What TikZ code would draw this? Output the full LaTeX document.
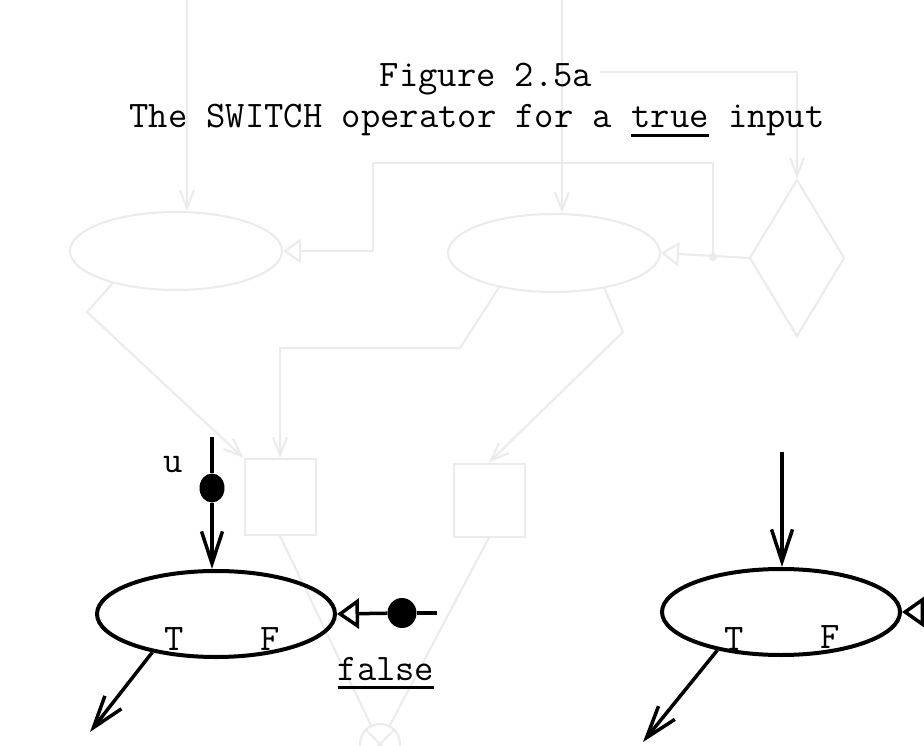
\documentclass[tikz,border=0pt]{standalone}
\usepackage{fontspec}
\usepackage{tikz}
\usetikzlibrary{shapes.geometric, arrows.meta, positioning}

\tikzset{
	txt/.style={font=\ttfamily\fontsize{37.5}{40}\selectfont\addfontfeatures{FakeBold=3}, inner sep=0pt, anchor=base},
	op/.style={draw, shape=ellipse, line width=4pt, minimum width=238pt, minimum height=86pt, inner sep=0pt},
	token/.style={fill, shape=ellipse, minimum width=25pt, minimum height=29pt, inner sep=0pt},
	wire/.style={line width=3.5pt},
	ghost/.style={draw=black!8, line width=2pt},
	vee/.tip={Straight Barb[length=32pt, width=21pt]},
	tri/.tip={Triangle[open, length=22pt, width=30pt]},
	gvee/.tip={Straight Barb[length=18pt, width=14pt]},
	gtri/.tip={Triangle[open, length=18pt, width=24pt]},
}
\newcommand{\lineunder}[1]{\setbox0\hbox{#1}\rlap{\rule[-9pt]{\wd0}{2.6pt}}\box0\relax}

\begin{document}
\begin{tikzpicture}[x=1pt, y=-1pt]
	\useasboundingbox[fill=white] (0,0) rectangle (924,746);
	\clip (0,0) rectangle (924,746);

	\node[ghost, shape=ellipse, minimum width=212pt, minimum height=78pt] (gOpA) at (176,251) {};
	\node[ghost, shape=ellipse, minimum width=212pt, minimum height=78pt] (gOpB) at (554,253) {};
	\node[ghost, shape=diamond, minimum width=95pt, minimum height=157pt, inner sep=0pt] (gPred) at (797,258) {};
	\node[ghost, minimum width=71pt, minimum height=76pt] (gBoxG) at (280,497) {};
	\node[ghost, minimum width=71pt, minimum height=73pt] (gBoxF) at (489,500) {};
	\node[ghost, shape=circle, minimum size=40pt] (gMerge) at (380,744) {};
	\coordinate (gTopA) at (187,0);
	\coordinate (gTopB) at (562,0);
	\coordinate (gTopP) at (600,72);
	\coordinate (gJoin) at (713,257);
	\coordinate (gCorner) at (373,163);
	\coordinate (gBendA) at (87,312);
	\coordinate (gBendB) at (460,348);
	\coordinate (gBendC) at (623,332);

	\draw[ghost, -gvee] (gTopA) -- (gTopA |- gOpA.north);
	\draw[ghost, -gvee] (gTopB) -- (gTopB |- gOpB.north);
	\draw[ghost, -gvee] (gTopP) -| (gPred.north);
	\draw[ghost, -gtri] (gPred.west) -- (gOpB.east);
	\draw[ghost, -gtri] (gJoin) |- (gCorner) |- (gOpA.east);
	\fill[black!8] (gJoin) circle (4pt);
	\draw[ghost, -gvee] (gOpA.207) -- (gBendA) -- (gBoxG.north west);
	\draw[ghost, -gvee] (gOpB.212) -- (gBendB) -| (gBoxG.north);
	\draw[ghost, -gvee] (gOpB.325) -- (gBendC) -- (gBoxF.north);
	\draw[ghost] (gBoxG.south) -- (gMerge);
	\draw[ghost] (gBoxF.south) -- (gMerge);
	\draw[ghost] (gMerge.north west) -- (gMerge.south east);
	\draw[ghost] (gMerge.north east) -- (gMerge.south west);

	\node[txt] (title) at (486,87) {Figure 2.5a};
	\node[txt] (caption) at (477,128) {The SWITCH operator for a \lineunder{true} input};

	\node[op] (switchL) at (216,614) {};
	\node[txt] (tL) at (174,650) {T};
	\node[txt] (fL) at (270,650) {F};
	\coordinate (inL) at (212,437);
	\node[token] (u) at (212,488) {};
	\node[txt] (ulbl) at (173,472) {u};
	\node[token, minimum width=29pt, minimum height=30pt] (falsetok) at (402,613) {};
	\coordinate (inF) at (437,613);
	\node[txt] (falselbl) at (386,680) {\lineunder{false}};
	\coordinate (outL) at (90,732);

	\draw[wire] (inL) -- (u);
	\draw[wire, -vee] (u) -- (inL |- switchL.north);
	\draw[wire] (inF) -- (falsetok);
	\draw[wire, -tri] (falsetok) -- (switchL.east);
	\draw[wire, -vee] (switchL.211) -- (outL);

	\node[op] (switchR) at (781,612) {};
	\node[txt] (tR) at (734,650) {T};
	\node[txt] (fR) at (830,648) {F};
	\coordinate (inR) at (782,452);
	\coordinate (inRF) at (960,612);
	\coordinate (outR) at (643,742);

	\draw[wire, -vee] (inR) -- (inR |- switchR.north);
	\draw[wire, -tri] (inRF) -- (switchR.east);
	\draw[wire, -vee] (switchR.211) -- (outR);
\end{tikzpicture}
\end{document}
